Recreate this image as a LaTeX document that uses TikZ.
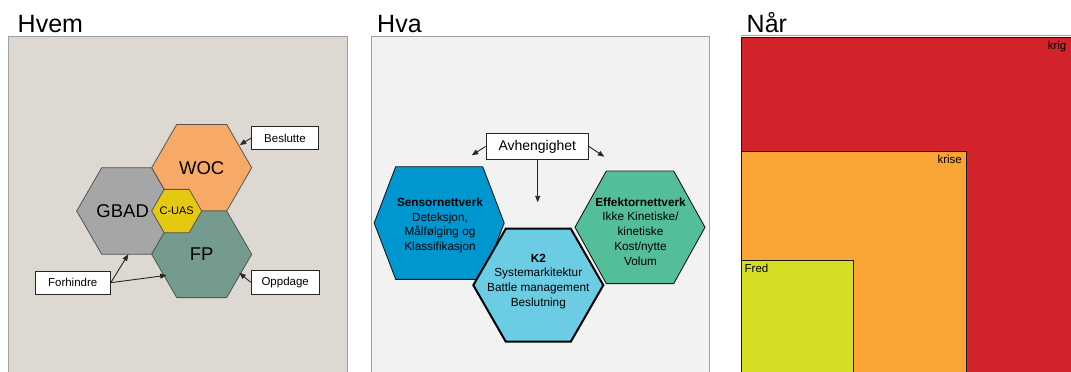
\documentclass[tikz,border=0pt]{standalone}
\usepackage{fontspec}
\setmainfont{Liberation Sans}
\usetikzlibrary{arrows.meta}

\definecolor{bgOne}{RGB}{221,216,209}
\definecolor{bgTwo}{RGB}{242,242,242}
\definecolor{frameGray}{RGB}{160,160,160}
\definecolor{hexGray}{RGB}{85,85,85}
\definecolor{wocFill}{RGB}{247,169,104}
\definecolor{gbadFill}{RGB}{166,166,166}
\definecolor{fpFill}{RGB}{116,155,142}
\definecolor{cuasFill}{RGB}{228,201,16}
\definecolor{sensorFill}{RGB}{0,150,208}
\definecolor{ktwoFill}{RGB}{108,204,228}
\definecolor{effFill}{RGB}{84,190,152}
\definecolor{krigFill}{RGB}{210,35,42}
\definecolor{kriseFill}{RGB}{249,164,53}
\definecolor{fredFill}{RGB}{213,222,35}

% flat-topped hexagon: style, centre, half width, half top edge, half height
\newcommand\hexagonAt[5]{%
  \draw[#1, shift={#2}] (-#3,0) -- (-#4,-#5) -- (#4,-#5) -- (#3,0)
        -- (#4,#5) -- (-#4,#5) -- cycle;}

\begin{document}
\begin{tikzpicture}[x=1pt, y=-1pt,
  frame/.style={draw=frameGray, line width=1pt},
  heading/.style={anchor=base west, inner sep=0pt, font=\fontsize{25}{30}\selectfont},
  hexa/.style={draw=hexGray, line width=0.8pt, line join=miter},
  hexb/.style={draw=black!90, line width=0.9pt, line join=miter},
  bigtxt/.style={inner sep=0pt, font=\fontsize{18.5}{22}\selectfont},
  hextxt/.style={inner sep=0pt, align=center, font=\fontsize{11.8}{14.8}\selectfont},
  tag/.style={draw=black!85, fill=white, line width=0.8pt, inner sep=0pt,
              minimum height=23.4pt, font=\fontsize{11.5}{14}\selectfont},
  link/.style={-{Triangle[length=6.5pt,width=5pt]}, line width=0.9pt, draw=black!85},
  level/.style={draw=black!90, line width=0.9pt},
  leveltxt/.style={inner sep=0pt, font=\fontsize{11.5}{14}\selectfont}]

\useasboundingbox (0,0) rectangle (1071,372);
\clip (0,0) rectangle (1071,372);

% ---------- Hvem ----------
\node[heading] (hvem) at (17.5,32.3) {Hvem};
\filldraw[frame, fill=bgOne] (8.5,36) rectangle (347.5,390);

\coordinate (gbad) at (126.7,211);
\coordinate (woc)  at (201.7,167.7);
\coordinate (fp)   at (201.7,254.3);
\coordinate (cuas) at (176.7,211);

\hexagonAt{hexa, fill=gbadFill}{(gbad)}{50}{25}{43.3}
\hexagonAt{hexa, fill=wocFill}{(woc)}{50}{25}{43.3}
\hexagonAt{hexa, fill=fpFill}{(fp)}{50}{25}{43.3}
\hexagonAt{hexa, fill=cuasFill}{(cuas)}{25}{12.5}{21.65}

\node[bigtxt] (woctxt)  at (woc)  {WOC};
\node[bigtxt] (gbadtxt) at ([xshift=-4pt]gbad) {GBAD};
\node[bigtxt] (fptxt)   at (fp)   {FP};
\node[inner sep=0pt, font=\fontsize{11}{13}\selectfont] (cuastxt) at (cuas) {C-UAS};

\node[tag, minimum width=66.6pt] (beslutte) at (285,138) {Beslutte};
\node[tag, minimum width=68.3pt] (oppdage)  at (285.2,282.3) {Oppdage};
\node[tag, minimum width=75.3pt] (forhindre) at (72.7,282.7) {Forhindre};

\coordinate (wocEdge)  at (239.7,145);
\coordinate (fpEdge)   at (239.3,272.7);
\coordinate (gbadBase) at (128.3,254.3);
\coordinate (fpSide)   at (166.7,275.3);

\draw[link] (beslutte.west) -- (wocEdge);
\draw[link] (oppdage.west) -- (fpEdge);
\draw[link] (forhindre.east) -- (gbadBase);
\draw[link] (forhindre.east) -- (fpSide);

% ---------- Hva ----------
\node[heading] (hva) at (377,32.3) {Hva};
\filldraw[frame, fill=bgTwo] (371,36) rectangle (709,390);

\coordinate (sensor) at (439.2,223);
\coordinate (ktwo)   at (538.3,285.2);
\coordinate (eff)    at (640,227.3);

\hexagonAt{hexb, fill=sensorFill}{(sensor)}{65}{43.5}{56.3}
\hexagonAt{hexb, fill=effFill}{(eff)}{65}{33.7}{56.3}
\hexagonAt{draw=black, line width=2pt, line join=miter, fill=ktwoFill}{(ktwo)}{65}{32.5}{56.5}

\node[hextxt] (sensortxt) at (440,225.5)
  {\textbf{Sensornettverk}\\Deteksjon,\\Målfølging og\\Klassifikasjon};
\node[hextxt] (ktwotxt) at (538.3,281.5)
  {\textbf{K2}\\Systemarkitektur\\Battle management\\Beslutning};
\node[hextxt] (efftxt) at (640.5,231.5)
  {\textbf{Effektornettverk}\\Ikke Kinetiske/\\kinetiske\\Kost/nytte\\Volum};

\node[tag, minimum width=102.7pt, minimum height=26.4pt,
      font=\fontsize{14}{17}\selectfont] (avh) at (537.3,146.5) {Avhengighet};

\coordinate (leftEnd)  at (471.7,155.3);
\coordinate (rightEnd) at (604.3,156.7);
\coordinate (downEnd)  at (537.7,202.3);

\draw[link] (avh.west) -- (leftEnd);
\draw[link] (avh.east) -- (rightEnd);
\draw[link] (avh.south -| downEnd) -- (downEnd);

% ---------- Når ----------
\node[heading] (naar) at (746.5,32.3) {Når};
\draw[frame] (741,35.5) -- (1071,35.5);
\filldraw[level, fill=krigFill]  (741,37.5) rectangle (1080,390);
\filldraw[level, fill=kriseFill] (741,151)  rectangle (966,390);
\filldraw[level, fill=fredFill]  (741,260)  rectangle (853,390);

\node[leveltxt, anchor=east] (krig)  at (1066.5,46.7) {krig};
\node[leveltxt, anchor=east] (krise) at (962,159)    {krise};
\node[leveltxt, anchor=west] (fred)  at (744.5,268.3) {Fred};

\end{tikzpicture}
\end{document}
